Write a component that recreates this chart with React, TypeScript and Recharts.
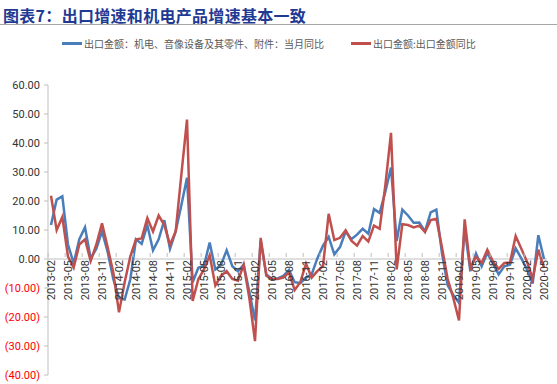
import React from "react";
import {
    LineChart,
    Line,
    XAxis,
    YAxis,
    ReferenceLine,
    Legend,
} from "recharts";

// months 2013-02 .. 2020-05
const months: string[] = [];
for (let y = 2013; y <= 2020; y++) {
    for (let m = 1; m <= 12; m++) {
        if (y === 2013 && m < 2) continue;
        if (y === 2020 && m > 5) continue;
        months.push(`${y}-${String(m).padStart(2, "0")}`);
    }
}

// 出口金额：机电、音像设备及其零件、附件：当月同比
const electro = [
    11.7, 20.5, 21.6, 5.0, -1.5, 6.8, 10.9, 0.2, 3.5, 9.5, 2.4,
    -7.0, -13.5, -14.0, -7.0, 6.8, 5.2, 11.7, 3.0, 6.8, 13.4, 3.5, 9.5,
    18.5, 28.0, -8.0, -3.0, -2.3, 5.7, -3.6, -2.0, 3.0, -2.5, -4.2, -2.0,
    -11.3, -21.2, 6.2, -5.3, -6.9, -6.7, -5.8, -3.8, -8.0, -8.3, -6.4, -5.3,
    0.2, 4.6, 7.6, 1.6, 4.1, 9.5, 6.8, 8.4, 10.4, 8.7, 17.2, 15.9,
    23.2, 31.5, 6.2, 17.0, 15.0, 12.5, 12.6, 9.5, 16.1, 17.0, 1.9, -9.1,
    -12.4, -15.1, 10.6, -4.2, 1.9, -2.5, 2.1, -1.6, -5.3, -2.5, -2.0, 3.7,
    0.2, -3.6, -8.5, 8.2, 0.0,
];

// 出口金额:出口金额同比
const total = [
    21.8, 10.0, 14.5, 0.8, -3.0, 5.0, 6.8, -0.7, 5.0, 12.3, 4.0,
    -4.7, -18.4, -8.0, 0.9, 6.8, 7.1, 14.1, 9.5, 15.0, 11.7, 4.9, 9.5,
    29.0, 48.1, -14.5, -7.0, -3.6, 1.3, -9.1, -5.8, -4.2, -6.9, -7.5, -2.0,
    -13.5, -28.3, 7.3, -5.8, -6.9, -6.9, -6.4, -4.7, -10.7, -8.0, -1.6, -6.4,
    -4.2, -2.5, 15.6, 6.5, 7.3, 9.9, 6.3, 4.6, 7.9, 6.0, 11.5, 10.4,
    25.4, 43.5, -3.6, 12.0, 11.7, 10.9, 11.5, 9.3, 13.4, 13.9, 4.0, -6.9,
    -13.5, -21.2, 13.7, -3.1, 0.8, -1.4, 3.2, -0.9, -3.4, -1.4, -1.2, 7.9,
    3.5, -0.9, -6.9, 3.2, -3.1,
];

const yTicks = [-40, -30, -20, -10, 0, 10, 20, 30, 40, 50, 60];

const series = [
    { key: "electro", name: "出口金额：机电、音像设备及其零件、附件：当月同比", color: "#4A7EBB" },
    { key: "total", name: "出口金额:出口金额同比", color: "#C0504D" },
];

const data = months.map((m, i) => ({ month: m, electro: electro[i], total: total[i] }));

const W = 557;
const H = 384;
const TOP = 70;
const BOTTOM = 9;
const plotH = H - TOP - BOTTOM;
const zeroY = TOP + plotH * (60 / 100);
const step = (W - 10 - 48 - 6) / (months.length - 1);
const font = "Roboto, 'Noto Sans CJK SC', sans-serif";

const YTick = (props: any) => {
    const { x, y, payload } = props;
    const v = payload.value as number;
    const label = v < 0 ? `(${Math.abs(v).toFixed(2)})` : v.toFixed(2);
    return (
        <text x={x} y={y} dy="0.35em" textAnchor="end" fontSize={11} fontFamily={font} fill={v < 0 ? "#FF0000" : "#333"}>
            {label}
        </text>
    );
};

const XTick = (props: any) => {
    const { x, payload } = props;
    const ty = zeroY + 7;
    return (
        <g>
            <line x1={x - step / 2} x2={x - step / 2} y1={zeroY} y2={zeroY + 4} stroke="#BFBFBF" />
            <text
                x={x}
                y={ty}
                dy="0.35em"
                textAnchor="end"
                fontSize={11}
                fontFamily={font}
                fill="#333"
                transform={`rotate(-90, ${x}, ${ty})`}
            >
                {payload.value}
            </text>
        </g>
    );
};

// fixed order, recharts sorts the payload otherwise
const LegendContent = () => (
    <div style={{ display: "flex", gap: 27, fontFamily: "'Noto Sans CJK SC', sans-serif", fontSize: 10, color: "#595959" }}>
        {series.map((s) => (
            <div key={s.key} style={{ display: "flex", alignItems: "center" }}>
                <span style={{ display: "inline-block", width: 20, height: 3, background: s.color, marginRight: 2 }} />
                <span>{s.name}</span>
            </div>
        ))}
    </div>
);

export default function App() {
    return (
        <div style={{ position: "absolute", left: 0, top: 0, width: W, height: H, background: "#fff" }}>
            <div
                style={{
                    position: "absolute",
                    left: 3,
                    top: 5,
                    fontFamily: "'Noto Sans CJK SC', sans-serif",
                    fontWeight: 700,
                    fontSize: 16,
                    lineHeight: "20px",
                    letterSpacing: 0.3,
                    color: "#1F3A93",
                    whiteSpace: "nowrap",
                }}
            >
                图表7：出口增速和机电产品增速基本一致
            </div>
            <div style={{ position: "absolute", left: 0, top: 24, width: W, height: 1, background: "#A6A6A6" }} />
            <div style={{ position: "absolute", left: 0, top: 0 }}>
                <LineChart width={W} height={H} data={data} margin={{ top: TOP, right: 10, left: 0, bottom: BOTTOM - 1 }}>
                    <XAxis
                        dataKey="month"
                        interval={2}
                        axisLine={false}
                        tickLine={false}
                        height={1}
                        padding={{ left: 3, right: 3 }}
                        tick={<XTick />}
                    />
                    <YAxis
                        domain={[-40, 60]}
                        ticks={yTicks}
                        width={48}
                        tickSize={4}
                        tickMargin={4}
                        axisLine={{ stroke: "#BFBFBF" }}
                        tickLine={{ stroke: "#BFBFBF" }}
                        tick={<YTick />}
                    />
                    <ReferenceLine y={0} stroke="#BFBFBF" strokeWidth={1} />
                    <Legend
                        verticalAlign="top"
                        align="left"
                        content={<LegendContent />}
                        wrapperStyle={{ top: 36, left: 62, width: "auto" }}
                    />
                    {series.map((s) => (
                        <Line
                            key={s.key}
                            dataKey={s.key}
                            name={s.name}
                            stroke={s.color}
                            strokeWidth={2.5}
                            dot={false}
                            isAnimationActive={false}
                        />
                    ))}
                </LineChart>
            </div>
        </div>
    );
}
